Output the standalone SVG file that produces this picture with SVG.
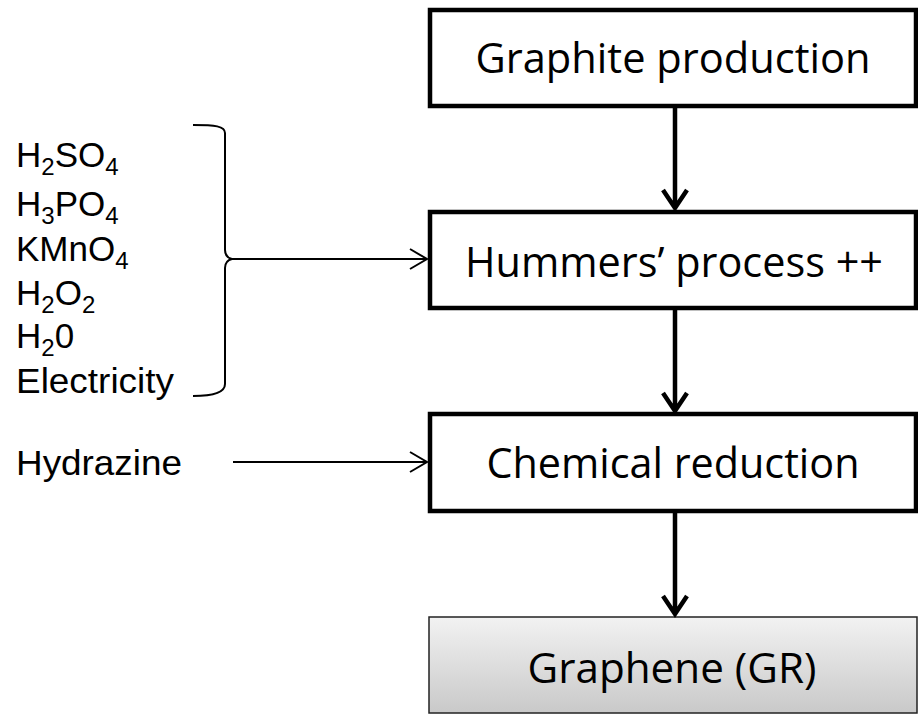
<svg xmlns="http://www.w3.org/2000/svg" width="918" height="715" viewBox="0 0 918 715">
<style>
.box{fill:#fff;stroke:#000;stroke-width:4.5}
.lbl{font-family:"Open Sans","Liberation Sans",sans-serif;font-size:42px;fill:#000;text-anchor:middle}
.chem{font-family:"Liberation Sans",Arial,sans-serif;font-size:35px;fill:#000}
.sub{font-size:24px}
.thick{stroke:#000;stroke-width:4.5;fill:none}
.thin{stroke:#000;stroke-width:2;fill:none}
</style>
<defs>
<linearGradient id="grey" x1="0" y1="0" x2="0" y2="1">
<stop offset="0" stop-color="#f2f2f2"/>
<stop offset="1" stop-color="#c9c9c9"/>
</linearGradient>
</defs>
<rect width="918" height="715" fill="#fff"/>
<g id="graphite">
<rect class="box" x="430" y="10" width="486" height="96"/>
<text class="lbl" x="673" y="73" textLength="395" lengthAdjust="spacingAndGlyphs">Graphite production</text>
</g>
<g id="hummers">
<rect class="box" x="430" y="212" width="486" height="96"/>
<text class="lbl" x="674" y="277" textLength="418" lengthAdjust="spacingAndGlyphs">Hummers’ process ++</text>
</g>
<g id="reduction">
<rect class="box" x="430" y="414" width="486" height="97"/>
<text class="lbl" x="673" y="478" textLength="373" lengthAdjust="spacingAndGlyphs">Chemical reduction</text>
</g>
<g id="graphene">
<rect x="429" y="617" width="488" height="96" fill="url(#grey)" stroke="#222" stroke-width="1.5"/>
<text class="lbl" x="672" y="683" textLength="289" lengthAdjust="spacingAndGlyphs">Graphene (GR)</text>
</g>
<g id="reagents">
<text class="chem" x="16" y="167">H<tspan class="sub" dy="8">2</tspan><tspan dy="-8">SO</tspan><tspan class="sub" dy="8">4</tspan></text>
<text class="chem" x="16" y="216">H<tspan class="sub" dy="8">3</tspan><tspan dy="-8">PO</tspan><tspan class="sub" dy="8">4</tspan></text>
<text class="chem" x="16" y="261">KMnO<tspan class="sub" dy="8">4</tspan></text>
<text class="chem" x="16" y="305">H<tspan class="sub" dy="8">2</tspan><tspan dy="-8">O</tspan><tspan class="sub" dy="8">2</tspan></text>
<text class="chem" x="16" y="348">H<tspan class="sub" dy="8">2</tspan><tspan dy="-8">0</tspan></text>
<text class="chem" x="16" y="393" textLength="158" lengthAdjust="spacingAndGlyphs">Electricity</text>
<path class="thin" d="M193,125 C215,125 225,126 225,133 L225,250 C225,256 228,258 232,259 C228,260 225,262 225,268 L225,384 C225,392 215,396 193,396"/>
</g>
<g id="hydrazine">
<text class="chem" x="16" y="475" textLength="166" lengthAdjust="spacingAndGlyphs">Hydrazine</text>
</g>
<g id="connectors">
<path class="thick" d="M675,108 V208 M663,190 L675,208 L687,190"/>
<path class="thick" d="M675,310 V411 M663,393 L675,411 L687,393"/>
<path class="thick" d="M675,513 V614 M663,596 L675,614 L687,596"/>
<path class="thin" d="M232,259 H427 M410,249 L427,259 L410,269"/>
<path class="thin" d="M233,462 H427 M410,452 L427,462 L410,472"/>
</g>
</svg>
